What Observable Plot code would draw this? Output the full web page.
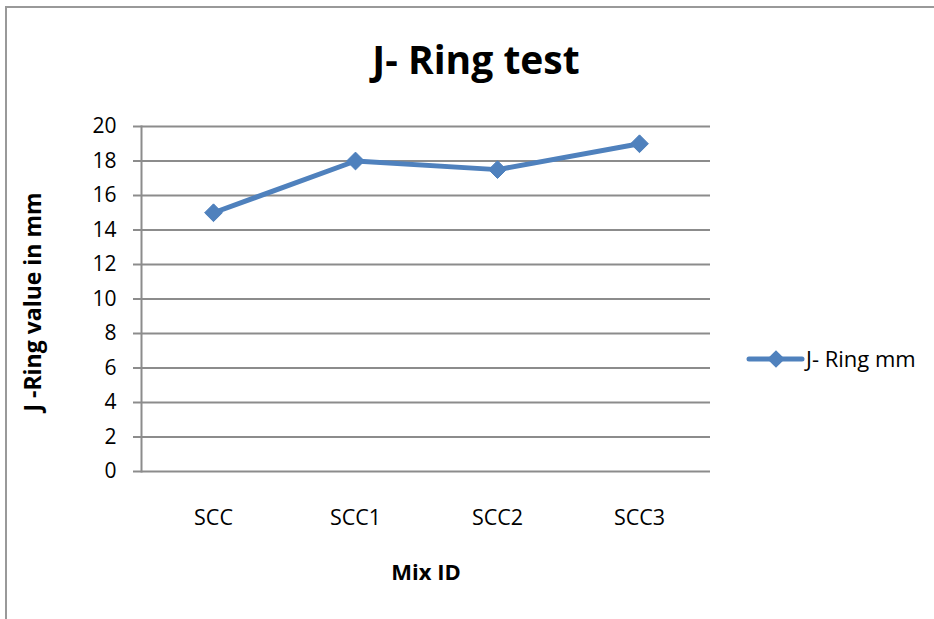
<!DOCTYPE html>
<html>
<head>
<meta charset="utf-8">
<script src="https://cdn.jsdelivr.net/npm/d3@7"></script>
<script src="https://cdn.jsdelivr.net/npm/@observablehq/plot@0.6"></script>
<style>
  html, body { margin: 0; padding: 0; background: #fff; overflow: hidden; width: 934px; height: 619px; }
  #chart { position: relative; width: 934px; height: 619px; overflow: hidden; }
  #chart svg { display: block; max-width: none !important; }
</style>
</head>
<body>
<div id="chart"></div>
<script>
const categories = ["SCC", "SCC1", "SCC2", "SCC3"];
const values = [15, 18, 17.5, 19];
const yTicks = [0, 2, 4, 6, 8, 10, 12, 14, 16, 18, 20];
const seriesName = "J- Ring mm";
const titleText = "J- Ring test";
const xLabel = "Mix ID";
const yLabel = "J -Ring value in mm";

const data = categories.map((c, i) => ({ cat: c, v: values[i] }));
const blue = "#4f81bd";
const grid = "#8c8c8c";
const font = "'Open Sans', sans-serif";

const chart = Plot.plot({
  width: 934,
  height: 619,
  marginLeft: 141,
  marginRight: 224,
  marginTop: 126,
  marginBottom: 148,
  style: { fontFamily: font, background: "white", overflow: "visible" },
  x: { domain: categories, type: "band", padding: 0, label: null },
  y: { domain: [0, 20], ticks: yTicks, label: null },
  marks: [
    Plot.gridY(yTicks, { stroke: grid, strokeOpacity: 1, strokeWidth: 2 }),
    Plot.axisY(yTicks, { tickSize: 8, stroke: grid, strokeWidth: 2, tickPadding: 17, fontSize: 21, fill: "#000", label: null }),
    Plot.axisX({ tickSize: 0, tickPadding: 38, fontSize: 21.5, fill: "#000", label: null }),
    Plot.frame({ anchor: "left", stroke: grid, strokeWidth: 2 }),
    Plot.line(data, { x: "cat", y: "v", stroke: blue, strokeWidth: 5 }),
    Plot.dot(data, { x: "cat", y: "v", symbol: "diamond2", r: 8, fill: blue, stroke: blue, strokeWidth: 1 }),
    Plot.text([titleText], { frameAnchor: "top", lineAnchor: "middle", textAnchor: "middle", dx: 50, dy: -65, text: d => d, fontSize: 39, fontWeight: "bold", fill: "#000" }),
    Plot.text([xLabel], { frameAnchor: "bottom", lineAnchor: "middle", textAnchor: "middle", dy: 101, text: d => d, fontSize: 22, fontWeight: "bold", fill: "#000" }),
    Plot.text([yLabel], { frameAnchor: "left", lineAnchor: "middle", textAnchor: "middle", dx: -108, dy: 3, rotate: -90, text: d => d, fontSize: 23, fontWeight: "bold", fill: "#000" })
  ]
});

document.getElementById("chart").appendChild(chart);

const svg = d3.select(chart);
// outer border
svg.append("rect")
  .attr("x", 6).attr("y", 7).attr("width", 960).attr("height", 660)
  .attr("fill", "none").attr("stroke", "#999").attr("stroke-width", 2);
// legend
const lg = svg.append("g").attr("transform", "translate(749,359)");
lg.append("line").attr("x1", 0).attr("x2", 53).attr("y1", 0).attr("y2", 0)
  .attr("stroke", blue).attr("stroke-width", 5).attr("stroke-linecap", "round");
lg.append("path").attr("d", d3.symbol(d3.symbolDiamond2, 200)())
  .attr("transform", "translate(27,0)").attr("fill", blue);
lg.append("text").attr("x", 57).attr("y", 0).attr("dy", "0.35em")
  .attr("text-anchor", "start")
  .attr("font-size", 22).attr("font-family", font).text(seriesName);
</script>
</body>
</html>
